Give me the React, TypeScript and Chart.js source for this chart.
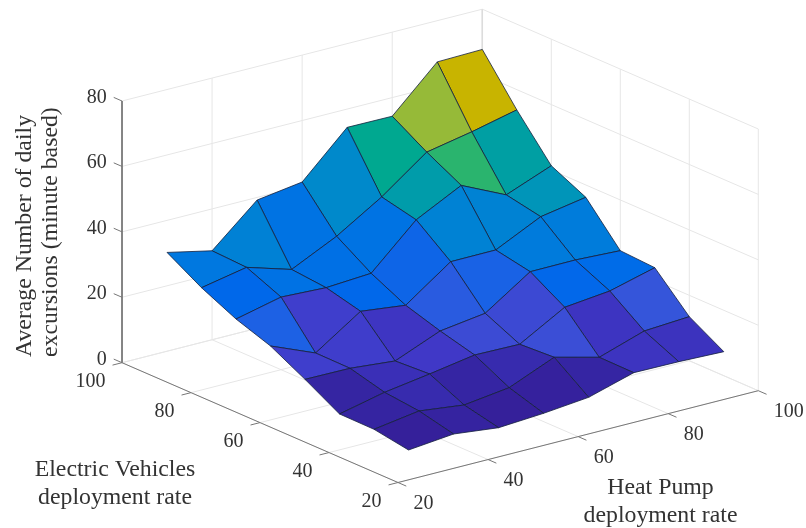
import { useEffect, useRef } from "react";
import { Chart, registerables } from "chart.js";

Chart.register(...registerables);

const heatPumpRates = [30, 40, 50, 60, 70, 80, 90, 100];
const evRates = [30, 40, 50, 60, 70, 80, 90, 100];

// one row per EV rate, one column per heat pump rate
const excursionsEv30 = [1.85, 3.23, 1.65, 2.55, 3.93, 7.94, 7.8, 7.35];
const excursionsEv40 = [3.6, 5.69, 4.01, 5.79, 11.58, 8.07, 12.6, 13.47];
const excursionsEv50 = [3.7, 6.82, 8.91, 11.21, 10.98, 18.78, 20.25, 23.87];
const excursionsEv60 = [9.72, 9.58, 8.31, 13.97, 15.87, 25.08, 25.15, 24.49];
const excursionsEv70 = [15.33, 9.68, 18.92, 17.25, 27.07, 27.14, 33.81, 36.23];
const excursionsEv80 = [19.0, 22.2, 21.56, 22.45, 35.3, 42.3, 35.9, 41.3];
const excursionsEv90 = [24.0, 26.7, 22.55, 29.2, 37.7, 47.9, 50.6, 53.8];
const excursionsEv100 = [30.2, 27.2, 39.2, 41.2, 54.4, 54.3, 67.4, 67.7];
const excursions = [
  excursionsEv30,
  excursionsEv40,
  excursionsEv50,
  excursionsEv60,
  excursionsEv70,
  excursionsEv80,
  excursionsEv90,
  excursionsEv100,
];

const horizontalTicks = [20, 40, 60, 80, 100];
const verticalTicks = [0, 20, 40, 60, 80];
const verticalTitle = ["Average Number of daily", "excursions (minute based)"];
const evTitle = ["Electric Vehicles", "deployment rate"];
const heatPumpTitle = ["Heat Pump", "deployment rate"];

const rampValues = [0, 2, 5, 7, 9, 12, 15, 19, 24, 29, 34, 37.7, 42.3, 47.9, 50.6, 68];
const rampColours = [
  "#33209a", "#35209a", "#3528a8", "#3a30b8", "#4038c8", "#3a52d8", "#2060e4", "#0068ea",
  "#0078e0", "#0088cc", "#0096b8", "#00a890", "#2ab46e", "#96ba38", "#c8b400", "#f0d020",
];

const hex = (c: string) => [1, 3, 5].map((i) => parseInt(c.slice(i, i + 2), 16));
function colourFor(z: number) {
  let i = 0;
  while (i < rampValues.length - 2 && z > rampValues[i + 1]) i++;
  const t = Math.min(1, Math.max(0, (z - rampValues[i]) / (rampValues[i + 1] - rampValues[i])));
  const a = hex(rampColours[i]);
  const b = hex(rampColours[i + 1]);
  return `rgb(${a.map((v, k) => Math.round(v + (b[k] - v) * t)).join(",")})`;
}

// orthographic view of the data cube onto the plane of the chart's x/y scales
function project(hp: number, ev: number, z: number) {
  const h = (hp - 20) / 80;
  const e = (ev - 20) / 80;
  return {
    x: 398 + h * 360.3 - e * 276,
    y: 482.5 - h * 91.8 - e * 119.8 - (z / 80) * 261.7,
  };
}

const GRID = "#e6e6e6";
const AXIS = "#777777";
const TEXT = "#333333";
const SURFACE_EDGE = "#14203c";

function polyline(points: { x: number; y: number }[], colour: string, width = 1) {
  return {
    data: points,
    showLine: true,
    fill: false,
    borderColor: colour,
    borderWidth: width,
    pointRadius: 0,
  };
}

function buildDatasets() {
  const back: any[] = [];
  // walls and floor
  for (const z of verticalTicks) {
    back.push(polyline([project(20, 100, z), project(100, 100, z), project(100, 20, z)], GRID));
  }
  for (const t of horizontalTicks) {
    back.push(polyline([project(t, 100, 0), project(t, 100, 80)], GRID));
    back.push(polyline([project(100, t, 0), project(100, t, 80)], GRID));
    back.push(polyline([project(t, 20, 0), project(t, 100, 0)], GRID));
    back.push(polyline([project(20, t, 0), project(100, t, 0)], GRID));
  }
  back.push(polyline([project(100, 100, 0), project(100, 100, 80)], "#dcdcdc", 1.5));
  // axes and ticks
  back.push(polyline([project(20, 100, 80), project(20, 100, 0), project(20, 20, 0), project(100, 20, 0)], AXIS));
  for (const z of verticalTicks) {
    back.push(polyline([project(20, 100, z), project(20, 102.4, z)], AXIS));
  }
  for (const t of horizontalTicks) {
    back.push(polyline([project(20, t, 0), project(17.9, t, 0)], AXIS));
    back.push(polyline([project(t, 20, 0), project(t, 17.6, 0)], AXIS));
  }
  // surface, back to front; each face takes its colour from its lowest-index corner
  for (let e = evRates.length - 2; e >= 0; e--) {
    for (let h = heatPumpRates.length - 2; h >= 0; h--) {
      const corners = [
        [h, e],
        [h + 1, e],
        [h + 1, e + 1],
        [h, e + 1],
        [h, e],
      ];
      back.push({
        data: corners.map(([a, b]) => project(heatPumpRates[a], evRates[b], excursions[b][a])),
        showLine: true,
        fill: "shape",
        backgroundColor: colourFor(excursions[e][h]),
        borderColor: SURFACE_EDGE,
        borderWidth: 0.8,
        borderJoinStyle: "round",
        pointRadius: 0,
      });
    }
  }
  // Chart.js paints the first dataset last
  return back.reverse();
}

const labelPlugin = {
  id: "labels3d",
  afterDraw(chart: any) {
    const { ctx, scales } = chart;
    const at = (p: { x: number; y: number }) => ({
      x: scales.x.getPixelForValue(p.x),
      y: scales.y.getPixelForValue(p.y),
    });
    ctx.save();
    ctx.fillStyle = TEXT;
    ctx.textBaseline = "alphabetic";
    ctx.font = '20px "Liberation Serif"';

    ctx.textAlign = "right";
    for (const z of verticalTicks) {
      const p = at(project(20, 100, z));
      ctx.fillText(String(z), p.x - 15.3, p.y + 2);
    }
    for (const t of horizontalTicks) {
      const p = at(project(20, t, 0));
      ctx.fillText(String(t), p.x - 16.5, p.y + 24.2);
    }
    ctx.textAlign = "left";
    for (const t of horizontalTicks) {
      const p = at(project(t, 20, 0));
      ctx.fillText(String(t), p.x + 15.5, p.y + 26.7);
    }

    ctx.font = '23.8px "Liberation Serif"';
    ctx.textAlign = "center";
    ctx.fillText(evTitle[0], 115, 476);
    ctx.fillText(evTitle[1], 115, 503.5);
    ctx.fillText(heatPumpTitle[0], 660.5, 494.3);
    ctx.fillText(heatPumpTitle[1], 660.5, 521.5);

    ctx.textAlign = "left";
    ctx.translate(31, 357);
    ctx.rotate(-Math.PI / 2);
    ctx.fillText(verticalTitle[0], 0, 0);
    ctx.fillText(verticalTitle[1], 0, 26);
    ctx.restore();
  },
};

export default function App() {
  const ref = useRef<HTMLCanvasElement>(null);
  useEffect(() => {
    if (!ref.current) return;
    const chart = new Chart(ref.current, {
      type: "scatter",
      data: { datasets: buildDatasets() },
      options: {
        animation: false,
        responsive: false,
        layout: { padding: 0 },
        plugins: { legend: { display: false }, tooltip: { enabled: false } },
        scales: {
          x: { type: "linear", display: false, min: 0, max: 806 },
          y: { type: "linear", display: false, min: 0, max: 528, reverse: true },
        },
      },
      plugins: [labelPlugin],
    } as any);
    return () => chart.destroy();
  }, []);
  return (
    <div style={{ position: "absolute", left: 0, top: 0, background: "#fff" }}>
      <canvas ref={ref} width={806} height={528} style={{ display: "block" }} />
    </div>
  );
}
